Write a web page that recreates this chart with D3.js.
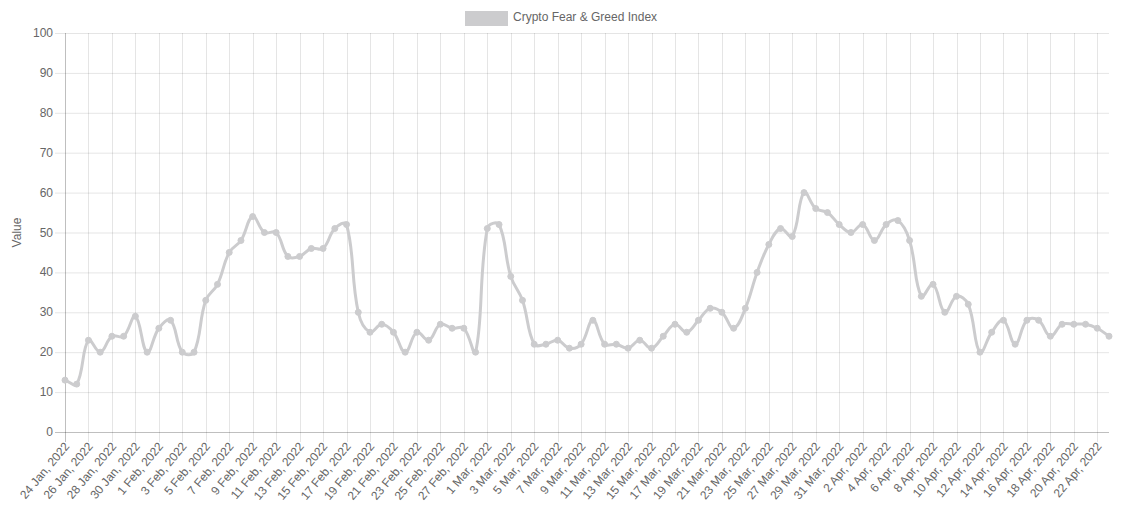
<!DOCTYPE html>
<html>
<head>
<meta charset="utf-8">
<script src="https://cdn.jsdelivr.net/npm/d3@7"></script>
<style>
  html, body { margin: 0; padding: 0; background: #fff; }
  svg { display: block; font-family: "Liberation Sans", Arial, Helvetica, sans-serif; }
</style>
</head>
<body>
<svg id="chart" width="1124" height="514"></svg>
<script>
const categories = [
  "24 Jan, 2022","25 Jan, 2022","26 Jan, 2022","27 Jan, 2022","28 Jan, 2022","29 Jan, 2022","30 Jan, 2022","31 Jan, 2022",
  "1 Feb, 2022","2 Feb, 2022","3 Feb, 2022","4 Feb, 2022","5 Feb, 2022","6 Feb, 2022","7 Feb, 2022","8 Feb, 2022",
  "9 Feb, 2022","10 Feb, 2022","11 Feb, 2022","12 Feb, 2022","13 Feb, 2022","14 Feb, 2022","15 Feb, 2022","16 Feb, 2022",
  "17 Feb, 2022","18 Feb, 2022","19 Feb, 2022","20 Feb, 2022","21 Feb, 2022","22 Feb, 2022","23 Feb, 2022","24 Feb, 2022",
  "25 Feb, 2022","26 Feb, 2022","27 Feb, 2022","28 Feb, 2022",
  "1 Mar, 2022","2 Mar, 2022","3 Mar, 2022","4 Mar, 2022","5 Mar, 2022","6 Mar, 2022","7 Mar, 2022","8 Mar, 2022",
  "9 Mar, 2022","10 Mar, 2022","11 Mar, 2022","12 Mar, 2022","13 Mar, 2022","14 Mar, 2022","15 Mar, 2022","16 Mar, 2022",
  "17 Mar, 2022","18 Mar, 2022","19 Mar, 2022","20 Mar, 2022","21 Mar, 2022","22 Mar, 2022","23 Mar, 2022","24 Mar, 2022",
  "25 Mar, 2022","26 Mar, 2022","27 Mar, 2022","28 Mar, 2022","29 Mar, 2022","30 Mar, 2022","31 Mar, 2022",
  "1 Apr, 2022","2 Apr, 2022","3 Apr, 2022","4 Apr, 2022","5 Apr, 2022","6 Apr, 2022","7 Apr, 2022","8 Apr, 2022",
  "9 Apr, 2022","10 Apr, 2022","11 Apr, 2022","12 Apr, 2022","13 Apr, 2022","14 Apr, 2022","15 Apr, 2022","16 Apr, 2022",
  "17 Apr, 2022","18 Apr, 2022","19 Apr, 2022","20 Apr, 2022","21 Apr, 2022","22 Apr, 2022","23 Apr, 2022"
];
const fearGreedValues = [
  13,12,23,20,24,24,29,20,
  26,28,20,20,33,37,45,48,
  54,50,50,44,44,46,46,51,
  52,30,25,27,25,20,25,23,
  27,26,26,20,
  51,52,39,33,22,22,23,21,
  22,28,22,22,21,23,21,24,
  27,25,28,31,30,26,31,40,
  47,51,49,60,56,55,52,
  50,52,48,52,53,48,34,37,
  30,34,32,20,25,28,22,28,
  28,24,27,27,27,26,24
];
const yTickValues = [0,10,20,30,40,50,60,70,80,90,100];
const seriesName = "Crypto Fear & Greed Index";
const axisTitle = "Value";

const W = 1124, H = 514;
const margin = { left: 65, right: 15, top: 33, bottom: 82 };
const x0 = margin.left, x1 = W - margin.right, y0 = margin.top, y1 = H - margin.bottom;
const grey = "rgb(204,204,206)";
const textColor = "#666";

const svg = d3.select("#chart");

const x = d3.scalePoint().domain(d3.range(categories.length)).range([x0, x1]);
const y = d3.scaleLinear().domain([0, 100]).range([y1, y0]);

// horizontal grid lines + y ticks
const gridColor = "rgba(0,0,0,0.1)";
const zeroColor = "rgba(0,0,0,0.25)";
const gy = svg.append("g");
yTickValues.forEach(v => {
  gy.append("line")
    .attr("x1", x0 - 10).attr("x2", x1)
    .attr("y1", y(v) + 0.5).attr("y2", y(v) + 0.5)
    .attr("stroke", v === 0 ? zeroColor : gridColor).attr("stroke-width", 1);
  gy.append("text")
    .attr("x", x0 - 12).attr("y", y(v))
    .attr("text-anchor", "end").attr("dominant-baseline", "central")
    .attr("font-size", 12).attr("fill", textColor)
    .text(v);
});

// vertical grid lines + x ticks (every other category)
const shown = d3.range(0, categories.length, 2);
const gx = svg.append("g");
shown.forEach(i => {
  const xx = Math.round(x(i)) + 0.5;
  gx.append("line")
    .attr("x1", xx).attr("x2", xx)
    .attr("y1", y0).attr("y2", y1 + 10)
    .attr("stroke", i === 0 ? zeroColor : gridColor).attr("stroke-width", 1);
  gx.append("text")
    .attr("transform", `translate(${x(i) + 2},${y1 + 12}) rotate(-50)`)
    .attr("text-anchor", "end").attr("dominant-baseline", "central")
    .attr("font-size", 12).attr("fill", textColor)
    .text(categories[i]);
});

// y axis title
svg.append("text")
  .attr("transform", `translate(17,${(y0 + y1) / 2}) rotate(-90)`)
  .attr("text-anchor", "middle").attr("dominant-baseline", "central")
  .attr("font-size", 12).attr("fill", textColor)
  .text(axisTitle);

// Chart.js-style spline (tension 0.4)
const pts = fearGreedValues.map((v, i) => ({ x: x(i), y: y(v) }));
const tension = 0.4;
pts.forEach((p, i) => {
  const prev = pts[i - 1] || p, next = pts[i + 1] || p;
  const d01 = Math.hypot(p.x - prev.x, p.y - prev.y);
  const d12 = Math.hypot(next.x - p.x, next.y - p.y);
  let s01 = d01 / (d01 + d12), s12 = d12 / (d01 + d12);
  if (!isFinite(s01)) s01 = 0;
  if (!isFinite(s12)) s12 = 0;
  const fa = tension * s01, fb = tension * s12;
  const clampX = v => Math.max(x0, Math.min(x1, v));
  const clampY = v => Math.max(y0, Math.min(y1, v));
  p.cpPrev = { x: clampX(p.x - fa * (next.x - prev.x)), y: clampY(p.y - fa * (next.y - prev.y)) };
  p.cpNext = { x: clampX(p.x + fb * (next.x - prev.x)), y: clampY(p.y + fb * (next.y - prev.y)) };
});
const path = d3.path();
pts.forEach((p, i) => {
  if (i === 0) path.moveTo(p.x, p.y);
  else {
    const q = pts[i - 1];
    path.bezierCurveTo(q.cpNext.x, q.cpNext.y, p.cpPrev.x, p.cpPrev.y, p.x, p.y);
  }
});
svg.append("path")
  .attr("d", path.toString())
  .attr("fill", "none").attr("stroke", grey).attr("stroke-width", 3)
  .attr("stroke-linejoin", "round");

svg.append("g").selectAll("circle").data(fearGreedValues).join("circle")
  .attr("cx", (d, i) => x(i)).attr("cy", d => y(d))
  .attr("r", 3).attr("fill", grey).attr("stroke", grey).attr("stroke-width", 1);

// legend
const legend = svg.append("g");
legend.append("rect")
  .attr("x", 466.5).attr("y", 12.5).attr("width", 40).attr("height", 12)
  .attr("fill", grey).attr("stroke", grey).attr("stroke-width", 3);
legend.append("text")
  .attr("x", 513).attr("y", 17)
  .attr("dominant-baseline", "central")
  .attr("font-size", 12).attr("fill", textColor)
  .text(seriesName);
</script>
</body>
</html>
